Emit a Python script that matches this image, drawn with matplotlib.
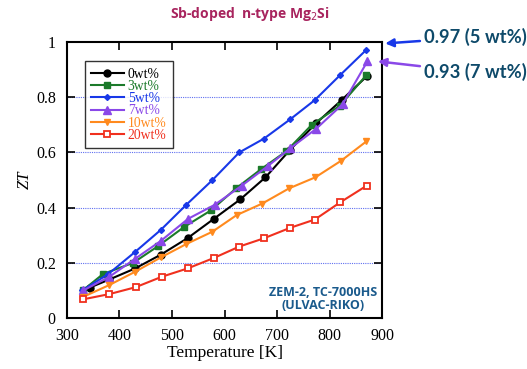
import matplotlib
matplotlib.use("Agg")
import matplotlib.pyplot as plt

# temperatures [K] and ZT for each Sb content
t_0 = [343, 381, 430, 479, 530, 580, 630, 678, 725, 774, 823, 872]
zt_0 = [0.11, 0.14, 0.18, 0.23, 0.29, 0.36, 0.43, 0.51, 0.61, 0.705, 0.79, 0.878]
t_3 = [330, 369, 426, 473, 523, 574, 622, 670, 718, 766, 820, 870]
zt_3 = [0.10, 0.16, 0.20, 0.26, 0.33, 0.39, 0.47, 0.54, 0.605, 0.70, 0.77, 0.88]
t_5 = [329, 379, 430, 479, 527, 577, 628, 675, 725, 772, 820, 869]
zt_5 = [0.10, 0.16, 0.24, 0.32, 0.41, 0.50, 0.60, 0.65, 0.72, 0.79, 0.88, 0.97]
t_7 = [331, 381, 430, 479, 531, 581, 633, 682, 725, 774, 825, 872]
zt_7 = [0.10, 0.15, 0.215, 0.28, 0.36, 0.41, 0.48, 0.55, 0.615, 0.685, 0.775, 0.93]
t_10 = [331, 381, 430, 479, 527, 577, 623, 672, 723, 773, 822, 870]
zt_10 = [0.077, 0.12, 0.168, 0.22, 0.268, 0.313, 0.373, 0.415, 0.47, 0.51, 0.57, 0.64]
t_20 = [331, 381, 431, 481, 530, 580, 628, 675, 725, 772, 820, 871]
zt_20 = [0.068, 0.087, 0.112, 0.15, 0.18, 0.218, 0.259, 0.289, 0.327, 0.357, 0.419, 0.48]

labels = ["0wt%", "3wt%", "5wt%", "7wt%", "10wt%", "20wt%"]
colors = ["black", "#1b7a2a", "#1838e8", "#8a48e8", "#ff8a1e", "#f0301e"]

serif = ["Liberation Serif", "DejaVu Serif"]

fig = plt.figure(figsize=(5.27, 3.69), dpi=100)
ax = fig.add_axes([0.127, 0.138, 0.598, 0.748])

ax.plot(t_0, zt_0, "-o", color=colors[0], ms=5, lw=1.5, label=labels[0])
ax.plot(t_3, zt_3, "-s", color=colors[1], ms=5, lw=1.5, label=labels[1])
ax.plot(t_5, zt_5, "-D", color=colors[2], ms=3, lw=1.5, label=labels[2])
ax.plot(t_7, zt_7, "-^", color=colors[3], ms=5.5, lw=1.5, label=labels[3])
ax.plot(t_10, zt_10, "-v", color=colors[4], ms=5, lw=1.5, label=labels[4])
ax.plot(t_20, zt_20, "-s", color=colors[5], ms=4.5, lw=1.5, mfc="white",
        mew=1.3, label=labels[5])

ax.set_xlim(300, 900)
ax.set_ylim(0, 1)
ax.set_xticks(range(300, 901, 100))
ax.set_yticks([0, 0.2, 0.4, 0.6, 0.8, 1])
ax.set_yticklabels(["0", "0.2", "0.4", "0.6", "0.8", "1"])
for y in [0.2, 0.4, 0.6, 0.8]:
    ax.axhline(y, color="#6070f0", lw=0.8, ls=(0, (1, 1)), zorder=0)
ax.tick_params(direction="in", top=True, right=True, length=6, width=1.2,
               labelsize=11.5)
ax.tick_params(axis="x", pad=7)
ax.tick_params(axis="y", pad=8)
for lab in ax.get_xticklabels() + ax.get_yticklabels():
    lab.set_family(serif)
for s in ax.spines.values():
    s.set_linewidth(1.5)

ax.set_xlabel("Temperature [K]", family=serif, fontsize=12.5, labelpad=1)
ax.set_ylabel("ZT", family=serif, fontsize=12, style="italic", labelpad=2)

leg = ax.legend(loc="upper left", bbox_to_anchor=(0.057, 0.93), frameon=True,
                fancybox=False, edgecolor="black", handlelength=2.4,
                prop={"family": serif, "size": 9.8}, labelspacing=-0.05,
                borderpad=0.45, handletextpad=0.3, borderaxespad=0)
leg.get_frame().set_linewidth(1.0)
for txt, c in zip(leg.get_texts(), colors):
    txt.set_color(c)

ax.text(0.985, 0.07, "ZEM-2, TC-7000HS\n(ULVAC-RIKO)", transform=ax.transAxes,
        ha="right", va="center", multialignment="center", color="#1a5a8c",
        fontsize=9, fontweight="bold", family="Open Sans", linespacing=1.05)

fig.text(0.475, 0.962, "Sb-doped  n-type Mg$_2$Si", ha="center", va="center",
         color="#a8245e", fontsize=10, fontweight="bold", family="Open Sans")

ax.annotate("0.97 (5 wt%)", xy=(906, 0.995), xytext=(980, 1.018),
            textcoords="data", annotation_clip=False, ha="left", va="center",
            color="#0e4a6a", fontsize=13.2, fontweight="bold", family="Lato",
            arrowprops=dict(arrowstyle="-|>", color=colors[2], lw=1.8,
                            mutation_scale=12, shrinkA=1, shrinkB=0))
ax.annotate("0.93 (7 wt%)", xy=(892, 0.93), xytext=(980, 0.89),
            textcoords="data", annotation_clip=False, ha="left", va="center",
            color="#0e4a6a", fontsize=13.2, fontweight="bold", family="Lato",
            arrowprops=dict(arrowstyle="-|>", color=colors[3], lw=1.8,
                            mutation_scale=12, shrinkA=1, shrinkB=0))

fig.savefig("out.png", dpi=100)
